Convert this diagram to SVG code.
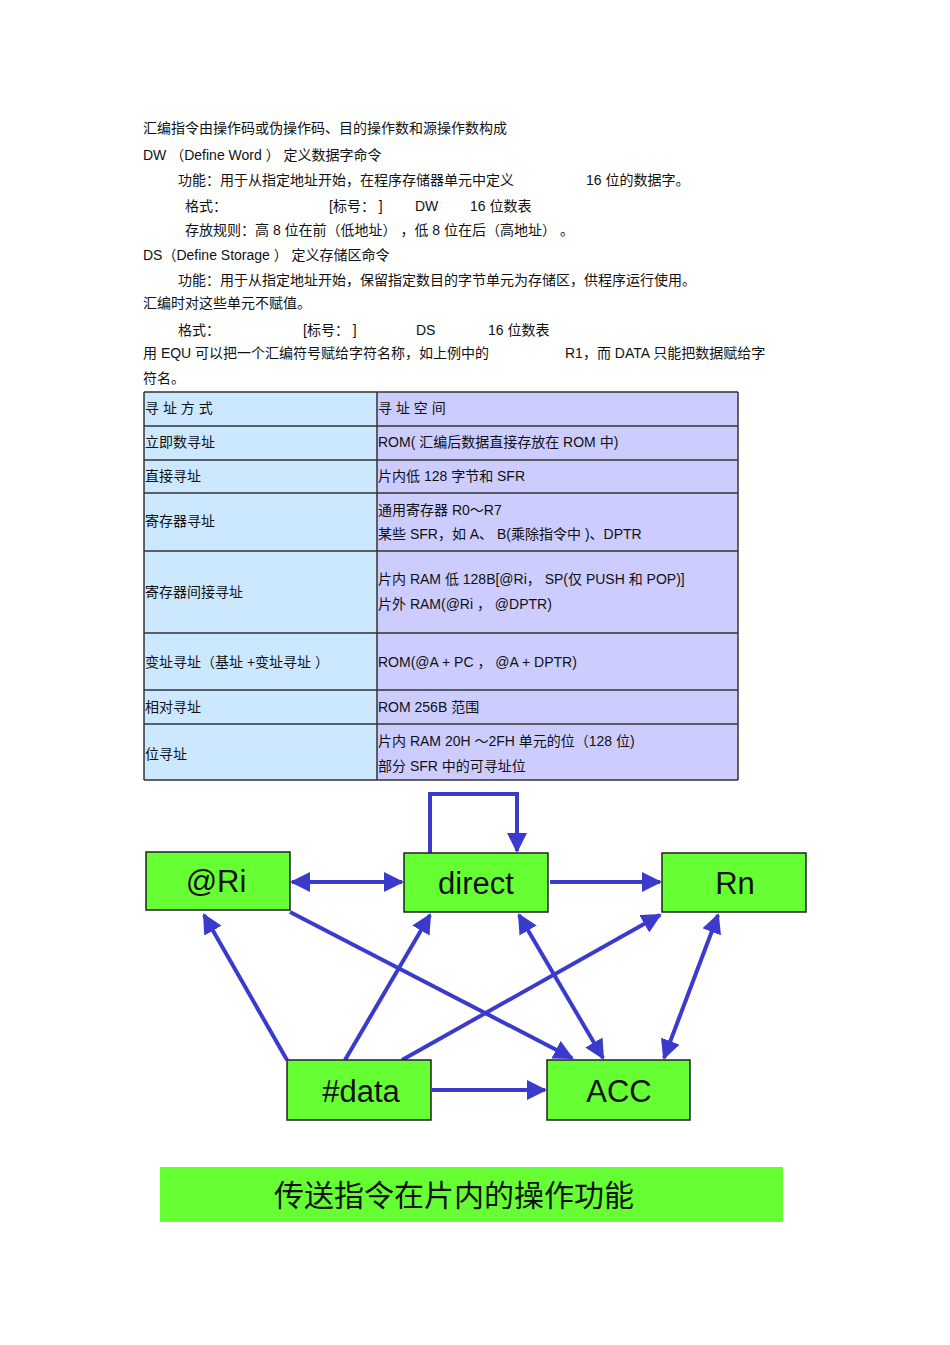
<svg xmlns="http://www.w3.org/2000/svg" width="950" height="1345" viewBox="0 0 950 1345">
<style>
.t{font-family:"Liberation Sans","Noto Sans CJK SC",sans-serif;font-size:14px;fill:#111}
.n{font-family:"Liberation Sans",sans-serif;font-size:31px;fill:#111;text-anchor:middle}
.box{fill:#66ff33;stroke:#222;stroke-width:1.5}
.c{stroke:#3a3acc;stroke-width:4;fill:none}
.l{fill:#cce8ff}.r{fill:#ccccff}
.g{stroke:#333;stroke-width:1.5}
</style>
<defs>
<marker id="a" viewBox="0 0 10 10" refX="9" refY="5" markerWidth="5" markerHeight="5" orient="auto-start-reverse" markerUnits="strokeWidth"><path d="M0,0L10,5L0,10z" fill="#3a3acc"/></marker>
</defs>
<rect width="950" height="1345" fill="#fff"/>
<g id="text">
<text class="t" x="143" y="133">汇编指令由操作码或伪操作码、目的操作数和源操作数构成</text>
<text class="t" x="143" y="160">DW （Define Word ）    定义数据字命令</text>
<text class="t" x="178" y="185">功能：用于从指定地址开始，在程序存储器单元中定义</text>
<text class="t" x="586" y="185">16 位的数据字。</text>
<text class="t" x="185" y="211">格式：</text>
<text class="t" x="329" y="211">[标号： ]</text>
<text class="t" x="415" y="211">DW</text>
<text class="t" x="470" y="211">16 位数表</text>
<text class="t" x="185" y="235">存放规则：高   8 位在前（低地址） ，低  8 位在后（高地址）   。</text>
<text class="t" x="143" y="260">DS（Define Storage ）    定义存储区命令</text>
<text class="t" x="178" y="285">功能：用于从指定地址开始，保留指定数目的字节单元为存储区，供程序运行使用。</text>
<text class="t" x="143" y="308">汇编时对这些单元不赋值。</text>
<text class="t" x="178" y="335">格式：</text>
<text class="t" x="303" y="335">[标号： ]</text>
<text class="t" x="416" y="335">DS</text>
<text class="t" x="488" y="335">16 位数表</text>
<text class="t" x="143" y="358">用 EQU 可以把一个汇编符号赋给字符名称，如上例中的</text>
<text class="t" x="565" y="358">R1，而 DATA 只能把数据赋给字</text>
<text class="t" x="143" y="383">符名。</text>
</g>
<g id="table">
<rect class="l" x="144" y="392" width="233" height="388"/>
<rect class="r" x="377" y="392" width="361" height="388"/>
<path class="g" d="M144,392H738M144,426H738M144,460H738M144,493H738M144,551H738M144,633H738M144,690H738M144,724H738M144,780H738M144,392V780M377,392V780M738,392V780"/>
<text class="t" x="145" y="413">寻  址  方  式</text>
<text class="t" x="378" y="413">寻  址  空  间</text>
<text class="t" x="145" y="447">立即数寻址</text>
<text class="t" x="378" y="447">ROM( 汇编后数据直接存放在     ROM   中)</text>
<text class="t" x="145" y="481">直接寻址</text>
<text class="t" x="378" y="481">片内低  128 字节和  SFR</text>
<text class="t" x="145" y="526">寄存器寻址</text>
<text class="t" x="378" y="515">通用寄存器    R0～R7</text>
<text class="t" x="378" y="539">某些  SFR，如  A、 B(乘除指令中  )、DPTR</text>
<text class="t" x="145" y="597">寄存器间接寻址</text>
<text class="t" x="378" y="584">片内  RAM   低 128B[@Ri， SP(仅  PUSH  和  POP)]</text>
<text class="t" x="378" y="609">片外  RAM(@Ri  ，  @DPTR)</text>
<text class="t" x="145" y="667">变址寻址（基址 +变址寻址  ）</text>
<text class="t" x="378" y="667">ROM(@A + PC   ，  @A + DPTR)</text>
<text class="t" x="145" y="712">相对寻址</text>
<text class="t" x="378" y="712">ROM 256B   范围</text>
<text class="t" x="145" y="759">位寻址</text>
<text class="t" x="378" y="746">片内  RAM 20H  ～2FH  单元的位（128 位)</text>
<text class="t" x="378" y="771">部分  SFR  中的可寻址位</text>
</g>
<g id="connectors">
<path class="c" d="M430,853V794H517V851" marker-end="url(#a)"/>
<line class="c" x1="292" y1="882" x2="402" y2="882" marker-start="url(#a)" marker-end="url(#a)"/>
<line class="c" x1="550" y1="882" x2="660" y2="882" marker-end="url(#a)"/>
<line class="c" x1="287" y1="1060" x2="204" y2="915" marker-end="url(#a)"/>
<line class="c" x1="290" y1="912" x2="572" y2="1058" marker-end="url(#a)"/>
<line class="c" x1="345" y1="1060" x2="430" y2="915" marker-end="url(#a)"/>
<line class="c" x1="402" y1="1060" x2="660" y2="915" marker-end="url(#a)"/>
<line class="c" x1="519" y1="915" x2="603" y2="1058" marker-start="url(#a)" marker-end="url(#a)"/>
<line class="c" x1="718" y1="915" x2="664" y2="1058" marker-start="url(#a)" marker-end="url(#a)"/>
<line class="c" x1="432" y1="1090" x2="545" y2="1090" marker-end="url(#a)"/>
</g>
<g id="n-ri"><rect class="box" x="146" y="852" width="144" height="58"/><text class="n" x="216" y="892">@Ri</text></g>
<g id="n-direct"><rect class="box" x="404" y="853" width="144" height="59"/><text class="n" x="476" y="894">direct</text></g>
<g id="n-rn"><rect class="box" x="662" y="853" width="144" height="59"/><text class="n" x="735" y="894">Rn</text></g>
<g id="n-data"><rect class="box" x="287" y="1060" width="144" height="60"/><text class="n" x="361" y="1102">#data</text></g>
<g id="n-acc"><rect class="box" x="547" y="1060" width="143" height="60"/><text class="n" x="619" y="1102">ACC</text></g>
<g id="title"><rect x="160" y="1167" width="623" height="55" fill="#66ff33"/><text x="454" y="1206" text-anchor="middle" style="font-family:'Noto Sans CJK SC',sans-serif;font-size:30px;fill:#111">传送指令在片内的操作功能</text></g>
</svg>
